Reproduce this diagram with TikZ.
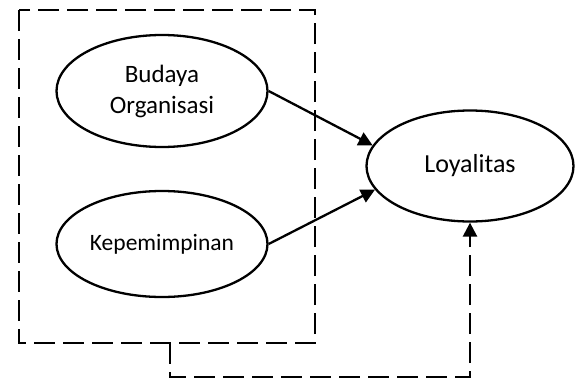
\documentclass[tikz,border=0pt]{standalone}
\usepackage{fontspec}
\setmainfont{Carlito}
\usetikzlibrary{arrows.meta,shapes.geometric}
\begin{document}
\begin{tikzpicture}[x=1pt,y=-1pt,
  var/.style={draw,ellipse,line width=2.3pt,inner sep=0pt,align=center},
  link/.style={line width=2.3pt,-{Triangle[length=14pt,width=14pt]}},
  dashline/.style={line width=2.5pt,dash pattern=on 21pt off 8pt}]
\useasboundingbox (0,0) rectangle (575,380);
\node[var,minimum width=211pt,minimum height=112pt,font=\fontsize{25}{31}\selectfont] (bo) at (162,91) {Budaya\\Organisasi};
\node[var,minimum width=211pt,minimum height=106pt,font=\fontsize{23.5}{28}\selectfont] (kp) at (162,244) {Kepemimpinan};
\node[var,minimum width=207pt,minimum height=111pt,font=\fontsize{26}{31}\selectfont] (ly) at (470,166) {Loyalitas};
\coordinate (tl) at (19,10);
\coordinate (br) at (315,343);
\draw[dashline] (tl) rectangle (br);
\coordinate (g1) at (170,343);
\coordinate (g2) at (170,377);
\coordinate (g3) at (ly.south |- g2);
\draw[link] (bo.east) -- (ly.168);
\draw[link] (kp.east) -- (ly.194);
\draw[dashline,-{Triangle[length=14pt,width=14pt]}] (g1) -- (g2) -- (g3) -- (ly.south);
\end{tikzpicture}
\end{document}
